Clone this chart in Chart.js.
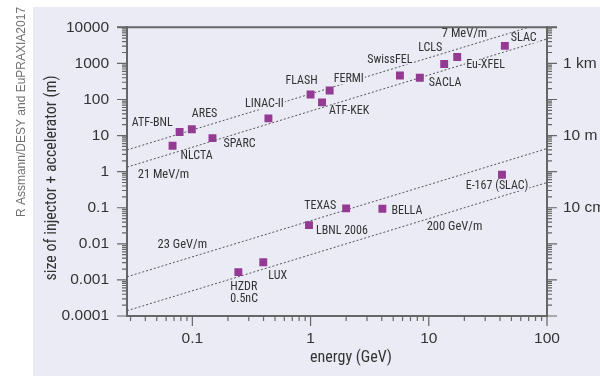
<!DOCTYPE html>
<html>
<head>
<meta charset="utf-8">
<script src="https://cdn.jsdelivr.net/npm/chart.js@4.4.1/dist/chart.umd.min.js"></script>
<style>
    html, body { margin: 0; padding: 0; background: #fff; }
    #wrap { position: relative; width: 600px; height: 376px; }
</style>
</head>
<body>
<div id="wrap"><canvas id="sizeChart" width="600" height="376"></canvas></div>
<script>
// Facilities: beam energy (GeV) vs size of injector + accelerator (m)
const facilities = ["ATF-BNL", "ARES", "NLCTA", "SPARC", "LINAC-II", "FLASH", "FERMI", "ATF-KEK",
    "SwissFEL", "SACLA", "LCLS", "Eu-XFEL", "SLAC", "E-167 (SLAC)", "HZDR\n0.5nC", "LUX",
    "TEXAS", "BELLA", "LBNL 2006"];
const energies = [0.078, 0.099, 0.068, 0.148, 0.44, 1.0, 1.45, 1.25,
    5.7, 8.4, 13.5, 17.4, 44, 41.6, 0.245, 0.398,
    2.0, 4.05, 0.97];
const sizes = [12.5, 15, 5.2, 8.5, 30, 138, 178, 83,
    460, 400, 960, 1510, 3060, 0.82, 0.00164, 0.0031,
    0.096, 0.094, 0.033];

// Constant-gradient reference lines (end points)
const gradientNames = ["7 MeV/m", "21 MeV/m", "23 GeV/m", "200 GeV/m"];
const lineEnergies = [0.028, 100];
const lineSizes7 = [4.0, 14300];
const lineSizes21 = [1.33, 4760];
const lineSizes23 = [0.00122, 4.35];
const lineSizes200 = [0.00014, 0.5];

// Tick labels
const xTickValues = [0.1, 1, 10, 100];
const xTickLabels = ["0.1", "1", "10", "100"];
const yTickValues = [0.0001, 0.001, 0.01, 0.1, 1, 10, 100, 1000, 10000];
const yTickLabels = ["0.0001", "0.001", "0.01", "0.1", "1", "10", "100", "1000", "10000"];
const rightTickValues = [1000, 10, 0.1];
const rightTickLabels = ["1 km", "10 m", "10 cm"];

const X_MIN = 0.028, X_MAX = 100, Y_MIN = 0.0001, Y_MAX = 10000;
const REG = '"Liberation Sans", Arial, sans-serif';
const COND = '"Roboto Condensed", "DejaVu Sans Condensed", sans-serif';
const BG = "#ebebf6";
const AXIS = "#666";
const INK = "#333";

// label placement next to each square: [dx, dy, align]
const labelPlace = [
    [-7, -9, "right"], [0, -15, "left"], [8, 10, "left"], [11, 6, "left"], [-4, -14, "center"],
    [-9, -13, "center"], [4, -11, "left"], [7, 9, "left"], [-10, -16, "center"], [9, 5, "left"],
    [-2, -16, "right"], [9, 8, "left"], [6, -8, "left"], [-5, 11, "center"], [-8, 15, "left"],
    [5, 14, "left"], [-10, -2, "right"], [9, 2, "left"], [7, 6, "left"]
];
// gradient label anchors in data units (left edge of text)
const gradientLabelAt = [[12.9, 6450], [0.0345, 0.81], [0.0508, 0.0096], [9.6, 0.030]];
const LABEL_FONT = "12px " + COND;
const GRAD_FONT = "12.5px " + COND;

function logTicks(min, max) {
    const out = [];
    for (let e = Math.floor(Math.log10(min)); e <= Math.ceil(Math.log10(max)); e++) {
        for (let m = 1; m <= 9; m++) {
            const v = parseFloat((m * Math.pow(10, e)).toPrecision(6));
            if (v >= min * 0.999999 && v <= max * 1.000001) out.push(v);
        }
    }
    return out;
}

function isDecade(v) {
    const l = Math.log10(v);
    return Math.abs(l - Math.round(l)) < 1e-9;
}

function lookup(values, labels, v) {
    const i = values.findIndex(t => Math.abs(t - v) / t < 1e-6);
    return i >= 0 ? labels[i] : "";
}

function labelBoxes(chart) {
    const ctx = chart.ctx;
    const meta = chart.getDatasetMeta(0);
    const boxes = [];
    ctx.font = LABEL_FONT;
    facilities.forEach((name, i) => {
        const pt = meta.data[i];
        const [dx, dy, align] = labelPlace[i];
        name.split("\n").forEach((line, k) => {
            boxes.push({ text: line, font: LABEL_FONT, x: pt.x + dx, y: pt.y + dy + k * 12, align, w: ctx.measureText(line).width });
        });
    });
    return boxes;
}

function gradientBoxes(chart) {
    const ctx = chart.ctx;
    ctx.font = GRAD_FONT;
    return gradientNames.map((name, i) => ({
        text: name,
        font: GRAD_FONT,
        x: chart.scales.x.getPixelForValue(gradientLabelAt[i][0]),
        y: chart.scales.y.getPixelForValue(gradientLabelAt[i][1]),
        align: "left",
        w: ctx.measureText(name).width
    }));
}

function boxLeft(b) {
    if (b.align === "right") return b.x - b.w;
    if (b.align === "center") return b.x - b.w / 2;
    return b.x;
}

const decor = {
    id: "decor",
    beforeDraw(chart) {
        const ctx = chart.ctx;
        ctx.save();
        ctx.fillStyle = "#fff";
        ctx.fillRect(0, 0, chart.width, chart.height);
        ctx.fillStyle = BG;
        ctx.fillRect(33, 7, chart.width - 33, chart.height - 7);

        // credit line
        ctx.translate(22, 112);
        ctx.rotate(-Math.PI / 2);
        ctx.fillStyle = "#707070";
        ctx.font = "12px " + REG;
        ctx.textAlign = "center";
        ctx.textBaseline = "middle";
        ctx.fillText("R Assmann/DESY and EuPRAXIA2017", 0, 0);
        ctx.restore();
    },
    afterDatasetDraw(chart, args) {
        // after the last gradient line: knock the lines out behind labels
        if (args.index !== 1) return;
        const ctx = chart.ctx;
        ctx.save();
        ctx.fillStyle = BG;
        labelBoxes(chart).concat(gradientBoxes(chart)).forEach(b => {
            ctx.fillRect(boxLeft(b) - 1, b.y - 5, b.w + 2, 10);
        });
        ctx.restore();
    },
    afterDatasetsDraw(chart) {
        const ctx = chart.ctx;
        ctx.save();
        ctx.fillStyle = INK;
        ctx.textBaseline = "middle";
        labelBoxes(chart).concat(gradientBoxes(chart)).forEach(b => {
            ctx.font = b.font;
            ctx.textAlign = b.align;
            ctx.fillText(b.text, b.x, b.y);
        });
        ctx.restore();
    },
    afterDraw(chart) {
        const ctx = chart.ctx;
        const area = chart.chartArea;
        const { x, y, y2 } = chart.scales;
        ctx.save();
        ctx.strokeStyle = AXIS;
        ctx.lineWidth = 1.2;
        ctx.beginPath();
        x.ticks.forEach(t => {
            const p = x.getPixelForValue(t.value);
            ctx.moveTo(p, area.bottom);
            ctx.lineTo(p, area.bottom + (isDecade(t.value) ? 10 : 5));
        });
        y.ticks.forEach(t => {
            const p = y.getPixelForValue(t.value);
            ctx.moveTo(area.left - (isDecade(t.value) ? 10 : 5), p);
            ctx.lineTo(area.left, p);
        });
        y2.ticks.forEach(t => {
            const p = y2.getPixelForValue(t.value);
            ctx.moveTo(area.right, p);
            ctx.lineTo(area.right + (isDecade(t.value) ? 10 : 5), p);
        });
        ctx.stroke();

        // heavy top frame
        ctx.lineWidth = 2;
        ctx.beginPath();
        ctx.moveTo(area.left - 10, area.top);
        ctx.lineTo(area.right + 10, area.top);
        ctx.stroke();

        // axis titles
        ctx.fillStyle = INK;
        ctx.font = "16px " + COND;
        ctx.textAlign = "center";
        ctx.textBaseline = "middle";
        ctx.fillText("energy (GeV)", 351, 358);
        ctx.translate(52, 178);
        ctx.rotate(-Math.PI / 2);
        ctx.fillText("size of injector + accelerator (m)", 0, 0);
        ctx.restore();
    }
};

function gradientDataset(ys) {
    return {
        type: "line",
        data: lineEnergies.map((e, i) => ({ x: e, y: ys[i] })),
        borderColor: "#555",
        borderWidth: 1,
        borderDash: [2, 2],
        pointRadius: 0,
        fill: false
    };
}

const axisBase = {
    type: "logarithmic",
    grid: { display: false, drawTicks: false },
    border: { display: true, color: AXIS, width: 2 },
    ticks: { autoSkip: false, maxRotation: 0, minRotation: 0, color: INK, font: { family: REG, size: 15.5 } }
};

new Chart(document.getElementById("sizeChart"), {
    type: "scatter",
    data: {
        datasets: [
            {
                data: energies.map((e, i) => ({ x: e, y: sizes[i] })),
                backgroundColor: "#933b93",
                borderWidth: 0,
                pointStyle: "rect",
                pointRadius: 5.6,
                pointHoverRadius: 5.6
            },
            gradientDataset(lineSizes7),
            gradientDataset(lineSizes21),
            gradientDataset(lineSizes23),
            gradientDataset(lineSizes200)
        ]
    },
    options: {
        responsive: false,
        devicePixelRatio: 1,
        animation: false,
        layout: { padding: { top: 25, left: 0, right: 0, bottom: 0 } },
        plugins: { legend: { display: false }, tooltip: { enabled: false } },
        scales: {
            x: {
                ...axisBase, position: "bottom", min: X_MIN, max: X_MAX,
                ticks: { ...axisBase.ticks, padding: 13, callback: v => lookup(xTickValues, xTickLabels, v) },
                afterBuildTicks: s => { s.ticks = logTicks(X_MIN, X_MAX).map(v => ({ value: v })); },
                afterFit: s => { s.height = 60; }
            },
            y: {
                ...axisBase, position: "left", min: Y_MIN, max: Y_MAX,
                ticks: { ...axisBase.ticks, padding: 18, callback: v => lookup(yTickValues, yTickLabels, v) },
                afterBuildTicks: s => { s.ticks = logTicks(Y_MIN, Y_MAX).map(v => ({ value: v })); },
                afterFit: s => { s.width = 127; }
            },
            y2: {
                ...axisBase, position: "right", min: Y_MIN, max: Y_MAX,
                ticks: { ...axisBase.ticks, padding: 16,
                    callback: v => lookup(rightTickValues, rightTickLabels, v) },
                afterBuildTicks: s => { s.ticks = logTicks(Y_MIN, Y_MAX).map(v => ({ value: v })); },
                afterFit: s => { s.width = 53; }
            }
        }
    },
    plugins: [decor]
});
</script>
</body>
</html>
